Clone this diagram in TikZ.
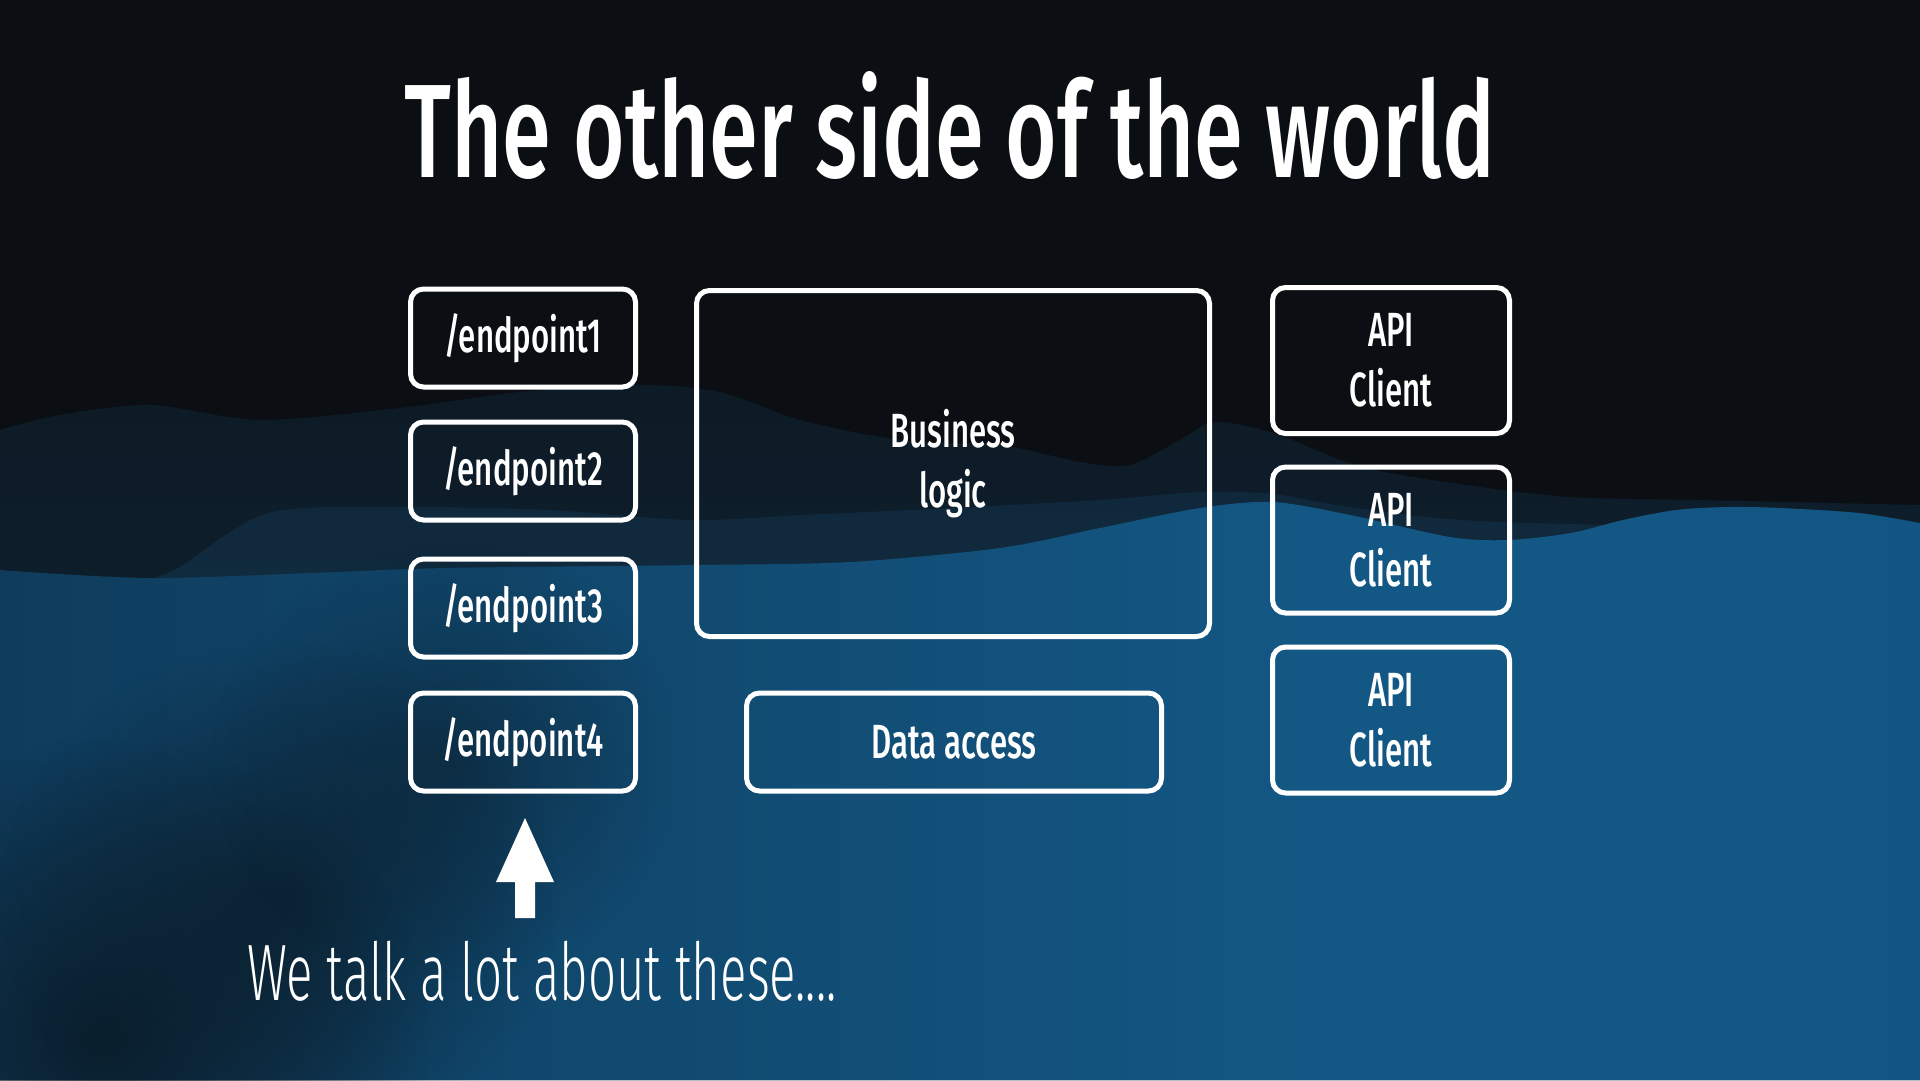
\documentclass[tikz,border=0pt]{standalone}
\usepackage{fontspec}
\setmainfont{Fira Sans}[FakeStretch=0.645]
\newfontfamily\boxfont{Fira Sans Medium}[FakeStretch=0.65]
\newfontfamily\titlefont{Fira Sans Medium}[FakeStretch=0.665]
\newfontfamily\lightfont{Fira Sans Light}[FakeStretch=0.615]
\usetikzlibrary{fadings}
\definecolor{bgtop}{HTML}{0B0F14}
\definecolor{backA}{HTML}{0D1B26}
\definecolor{backB}{HTML}{0F2435}
\definecolor{midA}{HTML}{10283B}
\definecolor{midB}{HTML}{11344F}
\definecolor{fr1}{HTML}{145A88}
\definecolor{fr2}{HTML}{0F3C5C}
\definecolor{fr3}{HTML}{135885}
\definecolor{fr4}{HTML}{115180}
\definecolor{shadowc}{HTML}{0A1822}
\pgfdeclarehorizontalshading{frontsh}{100bp}{color(0bp)=(fr1); color(25bp)=(fr2); color(60bp)=(fr3); color(100bp)=(fr4)}
\tikzfading[name=blobfade, inner color=transparent!0, outer color=transparent!100]
\begin{document}
\begin{tikzpicture}[x=1pt,y=-1pt,
  box/.style={draw=white, line width=5pt, rounded corners=13pt, text=white,
    align=center, inner sep=0pt, font=\boxfont\fontsize{48}{60}\selectfont},
  epbox/.style={box, minimum width=225pt, minimum height=98pt},
  apibox/.style={box, minimum width=237pt, minimum height=146pt},
  blob/.style={shadowc, path fading=blobfade}]
\useasboundingbox (0,0) rectangle (1920,1080);
% background
\fill[bgtop] (0,0) rectangle (1920,1080);
\shade[top color=backA, bottom color=backB]
  plot[smooth] coordinates {(0,430) (60,415) (150,405) (260,420) (400,408) (520,392) (640,385) (720,392) (800,420) (900,440) (1000,445) (1080,462) (1130,465) (1180,440) (1215,422) (1273,433) (1362,467) (1466,485) (1570,497) (1700,500) (1920,505)}
  -- (1920,1080) -- (0,1080) -- cycle;
\shade[top color=midA, bottom color=midB]
  plot[smooth] coordinates {(0,600) (120,585) (174,570) (268,513) (402,507) (550,510) (690,520) (800,515) (950,508) (1100,500) (1200,492) (1273,494) (1350,507) (1500,522) (1920,530)}
  -- (1920,1080) -- (0,1080) -- cycle;
\shade[shading=frontsh]
  plot[smooth] coordinates {(0,570) (147,578) (312,573) (446,568) (700,565) (850,562) (1000,548) (1100,528) (1200,508) (1273,502) (1350,515) (1450,537) (1508,540) (1571,533) (1623,520) (1676,510) (1728,507) (1781,508) (1859,513) (1920,523)}
  -- (1920,1080) -- (0,1080) -- cycle;
\fill[blob, fill opacity=0.8] (100,1040) ellipse [x radius=330pt, y radius=300pt];
\fill[blob, fill opacity=0.65] (280,900) ellipse [x radius=280pt, y radius=260pt];
\fill[blob, fill opacity=0.45] (450,760) ellipse [x radius=240pt, y radius=220pt];
% title
\node[anchor=base, text=white, inner sep=0pt, font=\titlefont\fontsize{133}{140}\selectfont] (title) at (950,177) {The other side of the world};
% endpoints
\node[epbox] (ep1) at (523,338) {/endpoint1};
\node[epbox] (ep2) at (523,471) {/endpoint2};
\node[epbox] (ep3) at (523,608) {/endpoint3};
\node[epbox] (ep4) at (523,742) {/endpoint4};
% business logic and data access
\node[box, minimum width=513pt, minimum height=346pt] (bl) at (953,463.5) {Business\\logic};
\node[box, minimum width=415pt, minimum height=98pt] (da) at (954,742) {Data access};
% API clients
\node[apibox] (api1) at (1391,360.5) {API\\Client};
\node[apibox] (api2) at (1391,540) {API\\Client};
\node[apibox] (api3) at (1391,720) {API\\Client};
% note and arrow
\node[anchor=base west, text=white, inner sep=0pt, font=\lightfont\fontsize{80}{90}\selectfont] (note) at (247,1000) {We talk a lot about these....};
\coordinate (atip) at (525,818);
\fill[white] (atip) -- ++(29,64) -- ++(-19,0) -- ++(0,36) -- ++(-20,0) -- ++(0,-36) -- ++(-19,0) -- cycle;
\end{tikzpicture}
\end{document}
